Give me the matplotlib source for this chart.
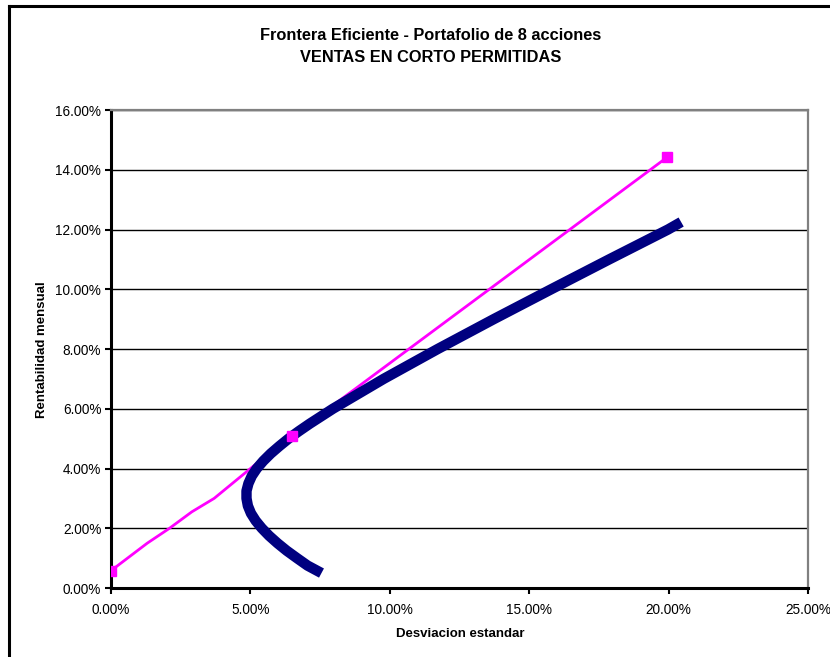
import matplotlib.pyplot as plt
from matplotlib.lines import Line2D
from matplotlib.ticker import PercentFormatter, MultipleLocator

plt.rcParams['font.family'] = ['Liberation Sans', 'DejaVu Sans']

# Frontera eficiente (desviacion estandar %, rentabilidad %)
frontera_sd = [7.55, 7.05, 6.67, 6.30, 5.97, 5.67, 5.41, 5.19, 5.02, 4.91,
               4.86, 4.86, 4.93, 5.05, 5.23, 5.46, 5.73, 6.04, 6.37, 6.74,
               7.13, 7.96, 9.78, 11.72, 13.73, 15.79, 17.87, 19.98, 20.45]
frontera_ret = [0.50, 0.75, 1.00, 1.25, 1.50, 1.75, 2.00, 2.25, 2.50, 2.75,
                3.00, 3.25, 3.50, 3.75, 4.00, 4.25, 4.50, 4.75, 5.00, 5.25,
                5.50, 6.00, 7.00, 8.00, 9.00, 10.00, 11.00, 12.00, 12.25]

# Linea de mercado de capitales
lmc_sd = [0.0, 1.3, 2.1, 2.9, 3.7, 5.2, 6.5, 19.95]
lmc_ret = [0.58, 1.50, 2.00, 2.55, 3.00, 4.15, 5.10, 14.42]
lmc_marcas = [0, 6, 7]

W, H = 830, 657
fig = plt.figure(figsize=(W / 100, H / 100), dpi=100)
fig.patch.set_facecolor('white')

# marco del grafico (recortado a la derecha y abajo)
fig.add_artist(Line2D([9 / W, 9 / W], [0, 1 - 6 / H], color='black', lw=2.2,
                      transform=fig.transFigure))
fig.add_artist(Line2D([9 / W, 1], [1 - 6 / H, 1 - 6 / H], color='black', lw=2.2,
                      transform=fig.transFigure))

ax = fig.add_axes([111 / W, (H - 588) / H, 697 / W, 478 / H])
ax.set_xlim(0, 25)
ax.set_ylim(0, 16)

ax.plot(lmc_sd, lmc_ret, color='#ff00ff', lw=2.0, zorder=2)
ax.plot(frontera_sd, frontera_ret, color='#000080', lw=7.5,
        solid_capstyle='butt', solid_joinstyle='round', zorder=3)
ax.plot([lmc_sd[i] for i in lmc_marcas], [lmc_ret[i] for i in lmc_marcas],
        ls='none', marker='s', ms=6.5, color='#ff00ff', zorder=4)

ax.xaxis.set_major_locator(MultipleLocator(5))
ax.yaxis.set_major_locator(MultipleLocator(2))
ax.xaxis.set_major_formatter(PercentFormatter(100, decimals=2))
ax.yaxis.set_major_formatter(PercentFormatter(100, decimals=2))
ax.tick_params(axis='both', labelsize=9.8, length=4, width=1.5, direction='out',
               color='black')
ax.tick_params(axis='x', pad=7)
ax.tick_params(axis='y', pad=3)

ax.grid(axis='y', color='black', lw=1.0)
ax.set_axisbelow(True)
for s in ('left', 'bottom'):
    ax.spines[s].set_color('black')
    ax.spines[s].set_linewidth(2.2)
for s in ('top', 'right'):
    ax.spines[s].set_color('#808080')
    ax.spines[s].set_linewidth(1.6)

fig.text(431 / W, 1 - 35 / H, 'Frontera Eficiente - Portafolio de 8 acciones',
         ha='center', va='center', fontsize=11.8, fontweight='bold')
fig.text(431 / W, 1 - 57 / H, 'VENTAS EN CORTO PERMITIDAS',
         ha='center', va='center', fontsize=11.8, fontweight='bold')
fig.text(460 / W, 1 - 634 / H, 'Desviacion estandar', ha='center', va='center',
         fontsize=9.5, fontweight='bold')
fig.text(42 / W, 1 - 350 / H, 'Rentabilidad mensual', ha='center', va='center',
         rotation=90, fontsize=9.5, fontweight='bold')

fig.savefig('out.png', dpi=100)
